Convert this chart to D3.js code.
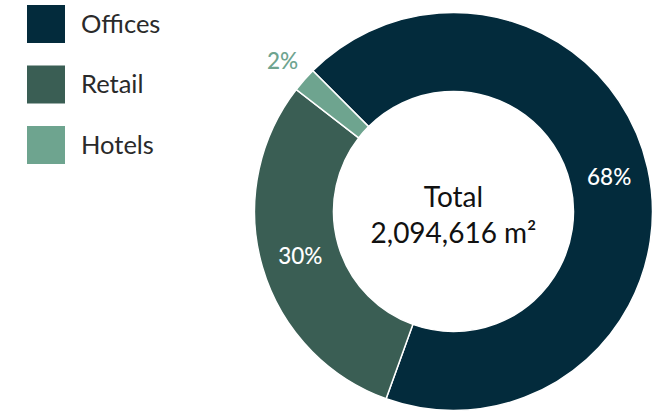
<!DOCTYPE html>
<html>
<head>
<meta charset="utf-8">
<script src="https://cdn.jsdelivr.net/npm/d3@7"></script>
<style>
  html, body { margin: 0; padding: 0; background: #fff; }
  svg { display: block; font-family: Lato, "Noto Sans", sans-serif; }
</style>
</head>
<body>
<svg id="chart" width="666" height="413"></svg>
<script>
const categories = ["Offices", "Retail", "Hotels"];
const shares = [68, 30, 2];
const labels = ["68%", "30%", "2%"];
const colors = ["#032b3c", "#3a5e54", "#6ea48f"];
const totalLines = ["Total", "2,094,616 m²"];

const svg = d3.select("#chart");
const cx = 453.5, cy = 211.5, outerR = 199, innerR = 120;

const data = categories.map((c, i) => ({ name: c, value: shares[i], label: labels[i], color: colors[i] }));

const pie = d3.pie().value(d => d.value).sort(null)
  .startAngle(-Math.PI / 4).endAngle(-Math.PI / 4 + 2 * Math.PI);
const arc = d3.arc().innerRadius(innerR).outerRadius(outerR);
const outerArc = d3.arc().innerRadius(228).outerRadius(228);

const g = svg.append("g").attr("transform", `translate(${cx},${cy})`);
const arcs = pie(data);

g.selectAll("path.slice").data(arcs).join("path")
  .attr("class", "slice")
  .attr("d", arc)
  .attr("fill", d => d.data.color)
  .attr("stroke", "#fff")
  .attr("stroke-width", 1.5);

g.selectAll("text.pct").data(arcs).join("text")
  .attr("class", "pct")
  .attr("transform", d => {
    const p = d.data.value < 5 ? outerArc.centroid(d) : arc.centroid(d);
    return `translate(${p[0]},${p[1]})`;
  })
  .attr("text-anchor", "middle")
  .attr("dy", "0.36em")
  .attr("font-size", 22.5)
  .attr("font-weight", 500)
  .attr("fill", d => d.data.value < 5 ? d.data.color : "#fff")
  .text(d => d.data.label);

const center = g.append("text").attr("text-anchor", "middle").attr("fill", "#111").attr("font-size", 28);
center.append("tspan").attr("x", 0).attr("y", -5).text(totalLines[0]);
center.append("tspan").attr("x", 0).attr("y", 31.5).text(totalLines[1]);

const legend = svg.append("g");
const ly = d3.scalePoint().domain(categories).range([24, 145]);
const items = legend.selectAll("g").data(data).join("g")
  .attr("transform", d => `translate(27,${ly(d.name)})`);
items.append("rect").attr("x", 0).attr("y", -19).attr("width", 38).attr("height", 38)
  .attr("fill", d => d.color);
items.append("text").attr("x", 54).attr("y", 8.5).attr("font-size", 25.5)
  .attr("fill", "#2a2a2a").text(d => d.name);
</script>
</body>
</html>
